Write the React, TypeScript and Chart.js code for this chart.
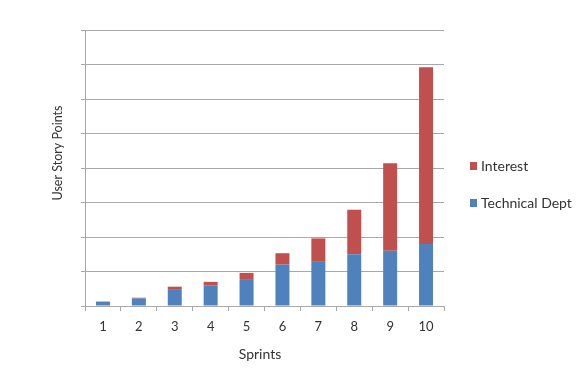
import React, { useEffect, useRef } from "react";
import { Chart, registerables } from "chart.js";

Chart.register(...registerables);

const categories = ["1", "2", "3", "4", "5", "6", "7", "8", "9", "10"];
const technicalDept = [0.12, 0.22, 0.49, 0.59, 0.78, 1.2, 1.28, 1.5, 1.6, 1.8];
const interest = [0.01, 0.02, 0.07, 0.11, 0.18, 0.33, 0.68, 1.29, 2.54, 5.12];
const yMax = 8;
const yStep = 1;
const xTitle = "Sprints";
const yTitle = "User Story Points";
const seriesNames = ["Technical Dept", "Interest"];
const seriesColors = ["#4F81BD", "#C0504D"];

const FONT = "Lato, 'Open Sans', sans-serif";
const TEXT = "#333333";
const GRID = "#a8a8a8";

const overlayPlugin = {
  id: "overlayText",
  afterDraw(chart: any) {
    const { ctx, chartArea } = chart;
    ctx.save();
    ctx.fillStyle = TEXT;
    ctx.textAlign = "center";
    ctx.textBaseline = "middle";
    // y title
    ctx.font = `12.5px ${FONT}`;
    ctx.save();
    ctx.translate(chartArea.left - 27, chartArea.top + 123);
    ctx.rotate(-Math.PI / 2);
    ctx.fillText(yTitle, 0, 0);
    ctx.restore();
    // x title
    ctx.font = `14px ${FONT}`;
    ctx.fillText(xTitle, chartArea.left + 175, chartArea.bottom + 48);
    // legend (reversed order like the original)
    const items = [
      { name: seriesNames[1], color: seriesColors[1] },
      { name: seriesNames[0], color: seriesColors[0] },
    ];
    ctx.textAlign = "left";
    items.forEach((it, i) => {
      const y = chartArea.top + 136 + i * 37;
      ctx.fillStyle = it.color;
      ctx.fillRect(chartArea.right + 26, y - 4, 7, 8);
      ctx.fillStyle = TEXT;
      ctx.font = `14px ${FONT}`;
      ctx.fillText(it.name, chartArea.right + 37, y);
    });
    ctx.restore();
  },
};

export default function App() {
  const ref = useRef<HTMLCanvasElement | null>(null);
  useEffect(() => {
    if (!ref.current) return;
    const chart = new Chart(ref.current, {
      type: "bar",
      data: {
        labels: categories,
        datasets: [
          {
            label: seriesNames[0],
            data: technicalDept,
            backgroundColor: seriesColors[0],
            barPercentage: 0.39,
            categoryPercentage: 1,
          },
          {
            label: seriesNames[1],
            data: interest,
            backgroundColor: seriesColors[1],
            barPercentage: 0.39,
            categoryPercentage: 1,
          },
        ],
      },
      options: {
        animation: false,
        responsive: true,
        maintainAspectRatio: false,
        layout: { padding: { left: 0, right: 144, top: 30, bottom: 0 } },
        plugins: {
          legend: { display: false },
          tooltip: { enabled: false },
        },
        scales: {
          x: {
            stacked: true,
            grid: {
              display: true,
              drawOnChartArea: false,
              drawTicks: true,
              tickLength: 5,
              color: GRID,
              offset: true,
            },
            border: { display: true, color: GRID },
            ticks: {
              color: TEXT,
              font: { family: FONT, size: 13 },
              padding: 8,
              maxRotation: 0,
            },
            afterFit: (scale: any) => {
              scale.height = 70;
            },
          },
          y: {
            stacked: true,
            min: 0,
            max: yMax,
            grid: {
              color: GRID,
              drawTicks: true,
              tickLength: 4,
            },
            border: { display: true, color: GRID },
            ticks: { display: false, stepSize: yStep },
            afterFit: (scale: any) => {
              scale.width = 85;
            },
          },
        },
      },
      plugins: [overlayPlugin],
    });
    return () => chart.destroy();
  }, []);
  return (
    <div style={{ position: "fixed", left: 0, top: 0, width: 588, height: 376, background: "#fff" }}>
      <canvas ref={ref} />
    </div>
  );
}
